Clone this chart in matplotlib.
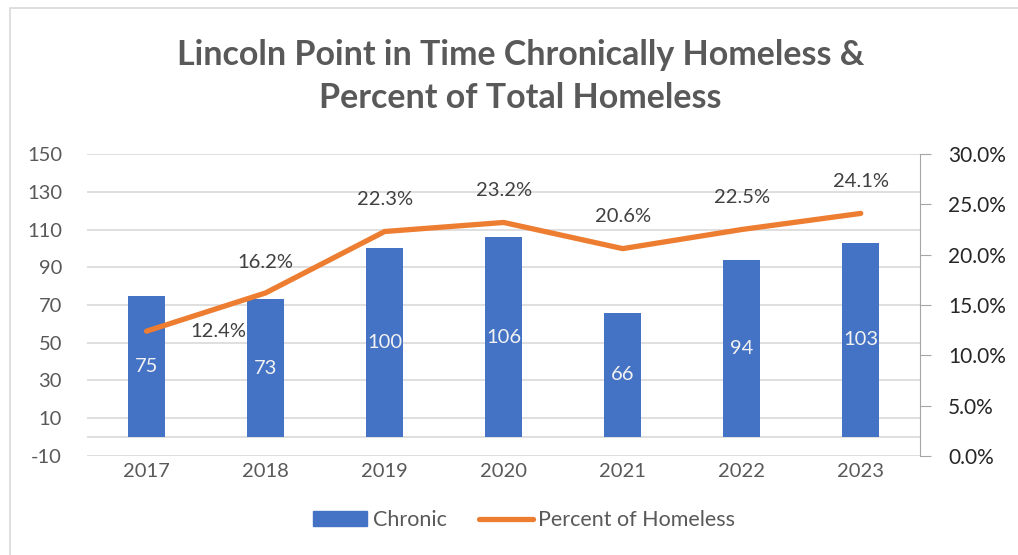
import matplotlib.pyplot as plt
from matplotlib.patches import Rectangle

plt.rcParams['font.family'] = ['Lato', 'DejaVu Sans']
plt.rcParams['axes.unicode_minus'] = False

years = ['2017', '2018', '2019', '2020', '2021', '2022', '2023']
chronic = [75, 73, 100, 106, 66, 94, 103]
percent = [12.4, 16.2, 22.3, 23.2, 20.6, 22.5, 24.1]
left_ticks = [-10, 10, 30, 50, 70, 90, 110, 130, 150]
right_ticks = [0, 5, 10, 15, 20, 25, 30]

blue = '#4472C4'
orange = '#ED7D31'
grid = '#D9D9D9'
txt = '#595959'
fs = 14.5

fig = plt.figure(figsize=(10.18, 5.55), dpi=100)
fig.add_artist(Rectangle((0.010, -0.01), 0.995, 0.995, transform=fig.transFigure,
                         fill=False, edgecolor=grid, linewidth=1.2))

ax = fig.add_axes([0.0855, 0.1784, 0.8185, 0.5441])
x = list(range(len(years)))

bars = ax.bar(x, chronic, width=0.31, color=blue, zorder=3)
for xi, v in zip(x, chronic):
    ax.text(xi, v / 2, str(v), ha='center', va='center', color='#F2F2F2',
            fontsize=fs, zorder=4)

ax.set_xlim(-0.5, 6.5)
ax.set_ylim(-10, 150)
ax.set_yticks(left_ticks)
ax.set_xticks(x)
ax.set_xticklabels(years)
ax.tick_params(axis='both', length=0, labelsize=fs, colors=txt)
ax.tick_params(axis='x', pad=5)
ax.tick_params(axis='y', pad=18)
for y in left_ticks:
    ax.axhline(y, color=grid, linewidth=1.2, zorder=1)
ax.axhline(0, color=grid, linewidth=1.2, zorder=1)
for s in ax.spines.values():
    s.set_visible(False)

ax2 = ax.twinx()
ax2.plot(x, percent, color=orange, linewidth=3.8, solid_capstyle='round', zorder=5)
ax2.set_ylim(0, 30)
ax2.set_yticks(right_ticks)
ax2.set_yticklabels([f'{t:.1f}%' for t in right_ticks])
ax2.tick_params(axis='y', length=8, color='#A6A6A6', labelsize=15,
                labelcolor='#262626', pad=12)
for s in ['top', 'left', 'bottom']:
    ax2.spines[s].set_visible(False)
ax2.spines['right'].set_color('#A6A6A6')

offsets = [(0.6, 0.0), (0.0, 3.0), (0.0, 3.2), (0.0, 3.2), (0.0, 3.2), (0.0, 3.2), (0.0, 3.2)]
for xi, p, (dx, dy) in zip(x, percent, offsets):
    ax2.text(xi + dx, p + dy, f'{p:.1f}%', ha='center', va='center',
             color='#404040', fontsize=fs, zorder=6)

fig.text(0.511, 0.901, 'Lincoln Point in Time Chronically Homeless &',
         ha='center', va='center', fontsize=24.5, fontweight='bold', color=txt)
fig.text(0.511, 0.823, 'Percent of Total Homeless',
         ha='center', va='center', fontsize=24.5, fontweight='bold', color=txt)

handles = [Rectangle((0, 0), 1, 1, color=blue),
           plt.Line2D([0], [0], color=orange, linewidth=3.8, solid_capstyle='round')]
fig.legend(handles, ['Chronic', 'Percent of Homeless'], loc='center',
           bbox_to_anchor=(0.515, 0.063), ncol=2, frameon=False, fontsize=15.5,
           labelcolor=txt, handlelength=2.5, handletextpad=0.25, columnspacing=1.5,
           handleheight=0.65)

fig.savefig('out.png', dpi=100)
